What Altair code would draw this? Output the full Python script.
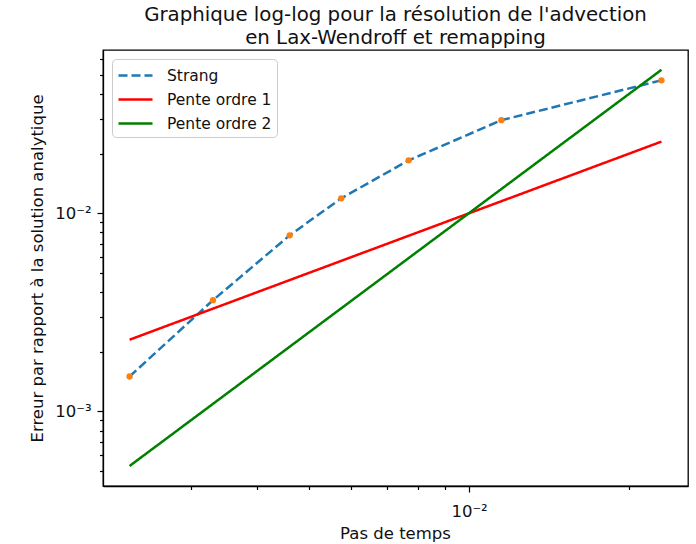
import altair as alt
import pandas as pd

# Pas de temps
dt = [0.0023, 0.0033, 0.0046, 0.00575, 0.0077, 0.0115, 0.023]
err_strang = [1.50e-3, 3.64e-3, 7.74e-3, 1.19e-2, 1.85e-2, 2.95e-2, 4.69e-2]
dt_ref = [0.0023, 0.023]
pente1 = [0.0023, 0.023]
pente2 = [5.3e-4, 5.3e-2]

series = ["Strang", "Pente ordre 1", "Pente ordre 2"]
colors = ["#1f77b4", "#ff0000", "#008000"]
dashes = [[9, 4], [1, 0], [1, 0]]

x_ticks = [0.003, 0.004, 0.005, 0.006, 0.007, 0.008, 0.009, 0.01, 0.02]
y_ticks = [0.0005, 0.0006, 0.0007, 0.0008, 0.0009, 0.001,
           0.002, 0.003, 0.004, 0.005, 0.006, 0.007, 0.008, 0.009, 0.01,
           0.02, 0.03, 0.04, 0.05, 0.06]

rows = []
for x, y in zip(dt, err_strang):
    rows.append({"serie": "Strang", "dt": x, "err": y})
for x, y in zip(dt_ref, pente1):
    rows.append({"serie": "Pente ordre 1", "dt": x, "err": y})
for x, y in zip(dt_ref, pente2):
    rows.append({"serie": "Pente ordre 2", "dt": x, "err": y})
df = pd.DataFrame(rows)
pts = pd.DataFrame({"dt": dt, "err": err_strang})

FONT = "DejaVu Sans"
major_test = "indexof([0.001, 0.01], datum.value) >= 0"

x_axis = alt.Axis(
    values=x_ticks,
    labelExpr="datum.value == 0.01 ? '10⁻²' : ''",
    labelOverlap=False, labelFlush=False,
    tickSize={"condition": {"test": major_test, "value": 6}, "value": 3.5},
    tickColor="black", tickWidth=1.2,
    domainColor="black", domainWidth=1.3,
    labelFontSize=16.5, labelFont=FONT, labelColor="#111",
    labelPadding=11,
    grid=False,
    title="Pas de temps", titleFont=FONT, titleFontSize=16.5,
    titleFontWeight="normal", titleColor="#111",
    titleX=292, titleY=47, titleBaseline="middle", titleAlign="center",
)
y_axis = alt.Axis(
    values=y_ticks,
    labelExpr="datum.value == 0.01 ? '10⁻²' : datum.value == 0.001 ? '10⁻³' : ''",
    labelOverlap=False, labelFlush=False,
    tickSize={"condition": {"test": major_test, "value": 6}, "value": 3.5},
    tickColor="black", tickWidth=1.2,
    domainColor="black", domainWidth=1.3,
    labelFontSize=16.5, labelFont=FONT, labelColor="#111",
    labelPadding=6,
    grid=False,
    title="Erreur par rapport à la solution analytique", titleFont=FONT,
    titleFontSize=16.5, titleFontWeight="normal", titleColor="#111",
    titleX=-66, titleY=218, titleBaseline="middle", titleAlign="center",
)

xs = alt.Scale(type="log", domain=[2.05e-3, 2.58e-2], nice=False)
ys = alt.Scale(type="log", domain=[4.2e-4, 6.67e-2], nice=False)

lines = alt.Chart(df).mark_line(strokeWidth=2.5).encode(
    x=alt.X("dt:Q", scale=xs, axis=x_axis),
    y=alt.Y("err:Q", scale=ys, axis=y_axis),
    color=alt.Color("serie:N", scale=alt.Scale(domain=series, range=colors),
                    legend=alt.Legend(title=None)),
    strokeDash=alt.StrokeDash("serie:N", scale=alt.Scale(domain=series, range=dashes),
                              legend=alt.Legend(title=None)),
    detail="serie:N",
)

dots = alt.Chart(pts).mark_circle(size=40, color="#ff7f0e", opacity=1).encode(
    x=alt.X("dt:Q", scale=xs),
    y=alt.Y("err:Q", scale=ys),
)

chart = (lines + dots).properties(
    width=585, height=436,
    padding={"left": 103, "top": 50, "right": 8, "bottom": 58},
    autosize=alt.AutoSizeParams(type="none"),
    background="white",
    title=alt.TitleParams(
        text=["Graphique log-log pour la résolution de l'advection",
              "en Lax-Wendroff et remapping"],
        font=FONT, fontSize=19.8, fontWeight="normal", color="#111",
        anchor="middle", lineHeight=23, baseline="bottom", offset=0, dy=18,
    ),
).configure_view(stroke="black", strokeWidth=1.3).configure_legend(
    orient="none", legendX=9, legendY=9,
    labelFont=FONT, labelFontSize=15.5, labelColor="#111",
    symbolType="M-1,0H2.4", symbolSize=400, symbolStrokeWidth=2.5,
    labelOffset=27, rowPadding=4, padding=5,
    strokeColor="#cccccc", fillColor="white", cornerRadius=4,
)

chart.save("out.html", embed_options={"renderer": "svg", "actions": False})
